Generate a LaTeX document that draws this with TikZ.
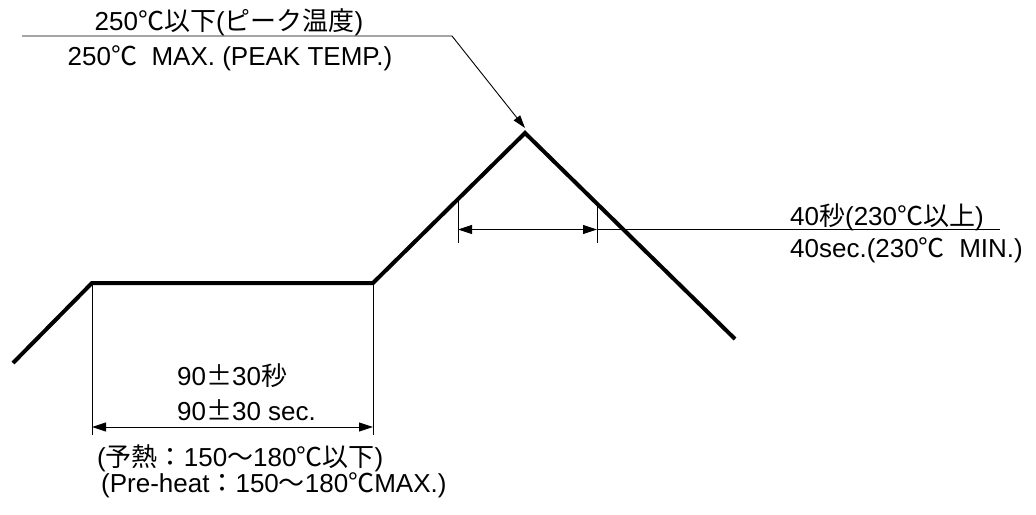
\documentclass[tikz,border=0pt]{standalone}
\usepackage{fontspec}
\setmainfont{Liberation Sans}
\newfontfamily\jpfont{Noto Sans CJK JP}
\newcommand\jp[1]{{\jpfont #1}}
\usetikzlibrary{arrows.meta}
\begin{document}
\begin{tikzpicture}[x=1pt,y=-1pt,
  profile/.style={line width=4pt, line join=miter},
  thinline/.style={line width=0.9pt},
  tip/.tip={Triangle[length=14pt,width=9pt]},
  dimarrow/.style={thinline, tip-tip},
  lbl/.style={inner sep=0pt, anchor=base west, font=\fontsize{26}{30}\selectfont},
  lblc/.style={lbl, anchor=base}]
\useasboundingbox (0,0) rectangle (1036,514);
% reflow profile
\coordinate (s) at (13,363);
\coordinate (p1) at (92,283);
\coordinate (p2) at (373,283);
\coordinate (pk) at (525,133);
\coordinate (e) at (735,339);
\draw[profile] (s) -- (p1) -- (p2) -- (pk) -- (e);
% pre-heat dimension
\coordinate (b1) at (92,435);
\coordinate (b2) at (373,435);
\coordinate (a1) at (92,427);
\coordinate (a2) at (373,427);
\draw[thinline] (p1) -- (b1);
\draw[thinline] (p2) -- (b2);
\draw[dimarrow] (a1) -- (a2);
% 40 sec dimension
\coordinate (u1) at (458,199);
\coordinate (u2) at (597,204);
\coordinate (d1) at (458,243);
\coordinate (d2) at (597,243);
\coordinate (m1) at (458,229.5);
\coordinate (m2) at (597,229.5);
\coordinate (m3) at (1000,229.5);
\draw[thinline] (u1) -- (d1);
\draw[thinline] (u2) -- (d2);
\draw[dimarrow] (m1) -- (m2);
\draw[thinline] (m2) -- (m3);
% peak leader
\coordinate (l0) at (22,36);
\coordinate (l1) at (452,36);
\coordinate (lt) at (525,128);
\draw[thinline, -{Triangle[length=13pt,width=8pt]}] (l0) -- (l1) -- (lt);
% labels
\node[lblc] (pk1) at (229,30) {250\jp{℃以下}(\jp{ピーク温度})};
\node[lblc] (pk2) at (230,65) {250\jp{℃}\ \ MAX. (PEAK TEMP.)};
\node[lbl] (r1) at (790,225) {40\jp{秒}(230\jp{℃以上})};
\node[lbl] (r2) at (790,257) {40sec.(230\jp{℃}\ \ MIN.)};
\node[lbl] (h1) at (177,385) {90\jp{±}30\jp{秒}};
\node[lbl] (h2) at (177,420) {90\jp{±}30 sec.};
\node[lbl] (h3) at (97,466) {(\jp{予熱：}150\jp{〜}180\jp{℃以下})};
\node[lbl] (h4) at (101,492) {(Pre-heat\jp{：}150\jp{〜}180\jp{℃}MAX.)};
\end{tikzpicture}
\end{document}
